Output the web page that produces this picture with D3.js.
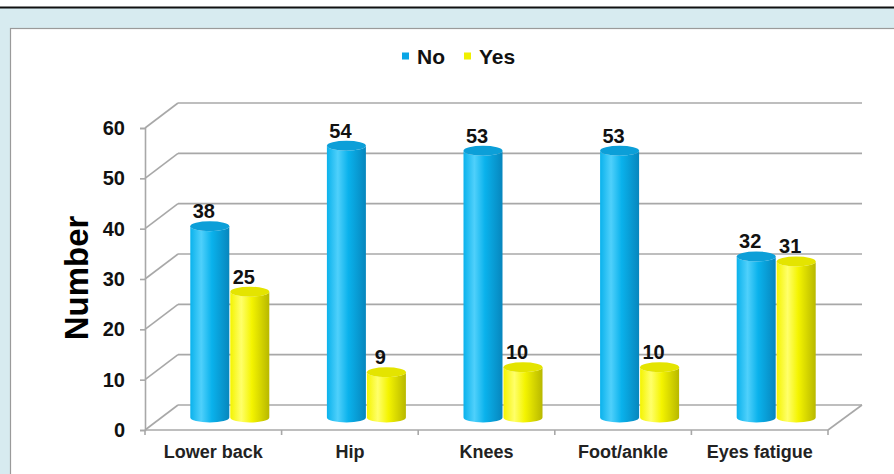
<!DOCTYPE html>
<html>
<head>
<meta charset="utf-8">
<script src="https://cdn.jsdelivr.net/npm/d3@7/dist/d3.min.js"></script>
<style>
  html, body { margin: 0; padding: 0; background: #ffffff; }
  svg { display: block; font-family: Arial, "Liberation Sans", sans-serif; }
</style>
</head>
<body>
<svg id="chart" width="894" height="474"></svg>
<script>
// Data
const categories = ["Lower back", "Hip", "Knees", "Foot/ankle", "Eyes fatigue"];
const seriesNames = ["No", "Yes"];
const noValues = [38, 54, 53, 53, 32];
const yesValues = [25, 9, 10, 10, 31];
const yTicks = [0, 10, 20, 30, 40, 50, 60];

const seriesValues = [noValues, yesValues];
const colors = {
  No:  { light: "#4fd0fb", mid: "#0ab2ec", dark: "#0786bd", top: "#0c9fd8", key: "#0aa6e6" },
  Yes: { light: "#ffff6a", mid: "#f4f400", dark: "#b8b800", top: "#e4e400", key: "#f0f000" }
};
const FONT = "Arial, 'Liberation Sans', sans-serif";

const svg = d3.select("#chart");

// frame: thin black rule, pale blue band, white panel
svg.append("rect").attr("x", 0).attr("y", 0).attr("width", 894).attr("height", 474).attr("fill", "#ffffff");
svg.append("rect").attr("x", 0).attr("y", 8).attr("width", 894).attr("height", 466).attr("fill", "#d7ebf0");
svg.append("line").attr("x1", 0).attr("x2", 894).attr("y1", 7.5).attr("y2", 7.5)
  .attr("stroke", "#111").attr("stroke-width", 2);
svg.append("rect").attr("x", 10.5).attr("y", 28.5).attr("width", 890).attr("height", 460)
  .attr("fill", "#ffffff").attr("stroke", "#9a9a9a").attr("stroke-width", 1.2);

// scales
const y = d3.scaleLinear().domain([0, 60]).range([430, 128]);
const x = d3.scaleBand().domain(categories).range([145, 828]);
const xs = d3.scaleBand().domain(seriesNames).range([0, 80]);
const depth = { dx: 33, dy: -25 };
const half = { dx: depth.dx / 2, dy: depth.dy / 2 };

const grid = svg.append("g").attr("stroke", "#a8a8a8").attr("stroke-width", 1.6).attr("fill", "none");
// back wall gridlines and side-wall diagonals
yTicks.forEach(v => {
  grid.append("line")
    .attr("x1", 145 + depth.dx).attr("x2", 828 + depth.dx + 1)
    .attr("y1", y(v) + depth.dy).attr("y2", y(v) + depth.dy);
  grid.append("line")
    .attr("x1", 145).attr("y1", y(v))
    .attr("x2", 145 + depth.dx).attr("y2", y(v) + depth.dy);
});
// floor front edge and right diagonal
grid.append("line").attr("x1", 145).attr("x2", 828).attr("y1", y(0)).attr("y2", y(0));
grid.append("line").attr("x1", 828).attr("y1", y(0))
  .attr("x2", 828 + depth.dx + 1).attr("y2", y(0) + depth.dy);

// value axis
const yAxis = d3.axisLeft(y).tickValues(yTicks).tickSize(5).tickPadding(15);
const gy = svg.append("g").attr("transform", "translate(145,0)").call(yAxis);
gy.select(".domain").attr("stroke", "#a8a8a8").attr("stroke-width", 1.6);
gy.selectAll(".tick line").attr("stroke", "#a8a8a8").attr("stroke-width", 1.6);
gy.selectAll(".tick text").attr("font-size", 20).attr("font-weight", "bold").attr("fill", "#111")
  .attr("font-family", FONT);

// category axis
const xAxis = d3.axisBottom(x).tickSize(0).tickPadding(15);
const gx = svg.append("g").attr("transform", `translate(0,${y(0)})`).call(xAxis);
gx.select(".domain").remove();
gx.selectAll(".tick text").attr("font-size", 18).attr("font-weight", "bold").attr("fill", "#222")
  .attr("font-family", FONT);
// category boundary ticks
const bounds = categories.map(c => x(c)).concat([x.range()[1]]);
svg.append("g").selectAll("line").data(bounds).join("line")
  .attr("x1", d => d).attr("x2", d => d).attr("y1", y(0)).attr("y2", y(0) + 5)
  .attr("stroke", "#a8a8a8").attr("stroke-width", 1.6);

// gradients for cylinders
const defs = svg.append("defs");
seriesNames.forEach(s => {
  const c = colors[s];
  const g = defs.append("linearGradient").attr("id", "grad-" + s)
    .attr("x1", "0%").attr("x2", "100%").attr("y1", "0%").attr("y2", "0%");
  g.append("stop").attr("offset", "0%").attr("stop-color", c.mid);
  g.append("stop").attr("offset", "28%").attr("stop-color", c.light);
  g.append("stop").attr("offset", "55%").attr("stop-color", c.mid);
  g.append("stop").attr("offset", "100%").attr("stop-color", c.dark);
});

// cylinders
const rx = xs.bandwidth() / 2 - 0.5;
const ry = 5;
const bars = svg.append("g");
categories.forEach((cat, i) => {
  seriesNames.forEach((s, k) => {
    const v = seriesValues[k][i];
    const cx = x(cat) + x.bandwidth() / 2 - 40 + xs(s) + xs.bandwidth() / 2 + half.dx;
    const yb = y(0) + half.dy;
    const yt = y(v) + half.dy;
    const x0 = cx - rx, x1 = cx + rx;
    bars.append("path")
      .attr("d", `M${x0},${yt} L${x0},${yb} A${rx},${ry} 0 0 0 ${x1},${yb} L${x1},${yt} A${rx},${ry} 0 0 1 ${x0},${yt} Z`)
      .attr("fill", `url(#grad-${s})`);
    bars.append("ellipse")
      .attr("cx", cx).attr("cy", yt).attr("rx", rx).attr("ry", ry)
      .attr("fill", colors[s].top);
    bars.append("text")
      .attr("x", cx - 6).attr("y", yt - ry - 3)
      .attr("text-anchor", "middle")
      .attr("font-size", 20).attr("font-weight", "bold").attr("fill", "#111")
      .text(v);
  });
});

// axis title
svg.append("text")
  .attr("transform", "translate(88,278) rotate(-90)")
  .attr("text-anchor", "middle")
  .attr("font-size", 33).attr("font-weight", "bold").attr("fill", "#000")
  .text("Number");

// legend
const legend = svg.append("g").attr("font-size", 21).attr("font-weight", "bold");
const legendItems = [{ name: "No", x: 402 }, { name: "Yes", x: 464 }];
legendItems.forEach(d => {
  legend.append("rect").attr("x", d.x).attr("y", 52.5).attr("width", 7).attr("height", 7)
    .attr("fill", colors[d.name].key);
  legend.append("text").attr("x", d.x + 15).attr("y", 64).attr("fill", "#111").text(d.name);
});
</script>
</body>
</html>
